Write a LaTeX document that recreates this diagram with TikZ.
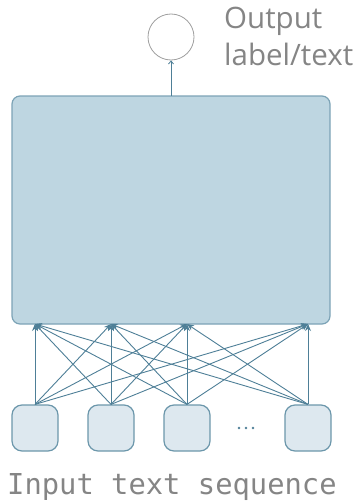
\documentclass[tikz,border=0pt]{standalone}
\usepackage{fontspec}
\setmainfont{Open Sans}
\newfontfamily\monofont{DejaVu Sans Mono}
\usetikzlibrary{arrows.meta}
\definecolor{bigfill}{HTML}{BED6E1}
\definecolor{bigdraw}{HTML}{7CA3B6}
\definecolor{tokfill}{HTML}{DDE8EF}
\definecolor{tokdraw}{HTML}{6C97AB}
\definecolor{wire}{HTML}{4E7F97}
\definecolor{labelgray}{HTML}{858585}
\tikzset{
  x=1pt, y=1pt,
  model/.style={draw=bigdraw, fill=bigfill, line width=1.2pt, rounded corners=8pt},
  token/.style={draw=tokdraw, fill=tokfill, line width=1.2pt, rounded corners=10pt,
    minimum width=46pt, minimum height=46pt, inner sep=0pt},
  conn/.style={draw=wire, line width=0.9pt, -{Stealth[length=7pt,width=6pt]}},
  outcircle/.style={circle, draw=gray!75, line width=0.8pt, minimum size=46pt, inner sep=0pt},
  caption/.style={text=labelgray, inner sep=0pt, anchor=base west},
  dot/.style={circle, fill=wire, inner sep=0pt, minimum size=2.6pt},
}
\begin{document}
\begin{tikzpicture}
\useasboundingbox (0,0) rectangle (358,-503);
% main model block
\draw[model] (12,-96) rectangle (330,-324);
\coordinate (m1) at (35,-324);
\coordinate (m2) at (111,-324);
\coordinate (m3) at (187,-324);
\coordinate (m4) at (308,-324);
\coordinate (mtop) at (171,-96);
% output unit
\node[outcircle] (out) at (171,-37) {};
\draw[conn, line width=0.8pt, -{Straight Barb[length=3pt,width=5pt]}] (mtop) -- (out.south);
\node[caption, font=\fontsize{29.5}{34}\selectfont] (o1) at (224,-29) {Output};
\node[caption, font=\fontsize{29.5}{34}\selectfont] (o2) at (224,-66) {label/text};
% input tokens
\node[token] (t1) at (35,-428) {};
\node[token] (t2) at (111,-428) {};
\node[token] (t3) at (187,-428) {};
\node[token] (t4) at (308,-428) {};
\node[dot] (d1) at (239,-428) {};
\node[dot] (d2) at (246,-428) {};
\node[dot] (d3) at (253,-428) {};
% fully connected inputs
\foreach \i in {1,2,3,4}{
  \foreach \j in {1,2,3,4}{
    \draw[conn] (t\i.north) -- (m\j);
  }
}
\node[caption, font=\monofont\fontsize{28.8}{30}\selectfont] (inlabel) at (7,-494) {Input text sequence};
\end{tikzpicture}
\end{document}
